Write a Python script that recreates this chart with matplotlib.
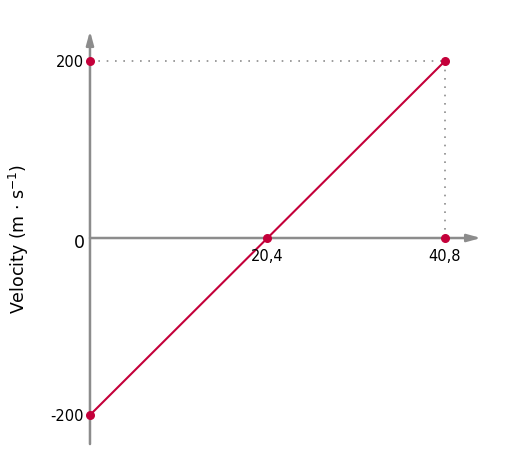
import matplotlib
matplotlib.use("Agg")
import matplotlib.pyplot as plt

# data
times = [0, 20.4, 40.8]
velocity = [-200, 0, 200]
ytick_vals = [200, -200]
xtick_vals = [20.4, 40.8]
xtick_labels = ["20,4", "40,8"]

red = "#c4003a"
grey = "#8c8c8c"

fig = plt.figure(figsize=(5.06, 4.77), dpi=100)
ax = fig.add_axes([0, 0, 1, 1])
ax.set_xlim(-10.34, 47.81)
ax.set_ylim(-268.9, 270.06)
ax.axis("off")

# axes with arrows
arrow_style = "-|>,head_length=0.8,head_width=0.22"
ax.annotate("", xy=(0, 233.9), xytext=(0, -232.8),
            arrowprops=dict(arrowstyle=arrow_style, color=grey, lw=1.8,
                            mutation_scale=10, shrinkA=0, shrinkB=0))
ax.annotate("", xy=(44.94, 0), xytext=(0, 0),
            arrowprops=dict(arrowstyle=arrow_style, color=grey, lw=1.8,
                            mutation_scale=10, shrinkA=0, shrinkB=0))

# dotted guides
ax.plot([0, times[2]], [velocity[2], velocity[2]], ls=(0, (1, 4)), color=grey, lw=1.2)
ax.plot([times[2], times[2]], [0, velocity[2]], ls=(0, (1, 4)), color=grey, lw=1.2)

# main line
ax.plot(times, velocity, color=red, lw=1.5, zorder=3)
ax.scatter(times, velocity, color=red, s=30, zorder=4)
ax.scatter([0, times[2]], [velocity[2], 0], color=red, s=30, zorder=4)

# tick labels
for v in ytick_vals:
    ax.text(-0.7, v, str(v), ha="right", va="center", fontsize=10.5)
ax.text(-0.6, -5, "0", ha="right", va="center", fontsize=12.5)
for xv, lab in zip(xtick_vals, xtick_labels):
    ax.text(xv, -11, lab, ha="center", va="top", fontsize=10.5)

ax.text(-8.2, 0, r"Velocity (m $\cdot$ s$^{-1}$)", rotation=90,
        ha="center", va="center", fontsize=12.5)

fig.savefig("out.png", dpi=100, facecolor="white")
